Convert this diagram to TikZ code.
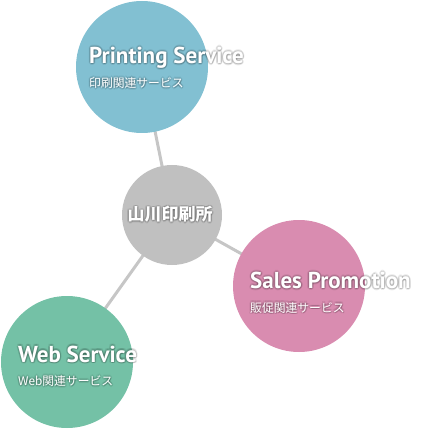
\documentclass[tikz,border=0pt]{standalone}
\usepackage{fontspec}
\setmainfont{PT Sans}
\newfontfamily\jpfont{Noto Sans CJK JP}
\usetikzlibrary{backgrounds}
\definecolor{printblue}{HTML}{82C0D2}
\definecolor{salespink}{HTML}{D98CB0}
\definecolor{webgreen}{HTML}{74C1A6}
\definecolor{centergrey}{HTML}{C0C0C0}
\definecolor{linegrey}{HTML}{C6C6C6}
\tikzset{
  bubble/.style={circle, inner sep=0pt, minimum size=132pt, draw=none},
  hub/.style={circle, inner sep=0pt, minimum size=100pt, draw=none, fill=centergrey},
  link/.style={draw=linegrey, line width=3pt},
  titletext/.style={text=white, inner sep=0pt, anchor=base west, font=\bfseries\fontsize{23}{26}\selectfont},
  subtext/.style={text=white, inner sep=0pt, anchor=base west, font=\jpfont\fontsize{11.8}{14}\selectfont},
  hubtext/.style={text=white, inner sep=0pt, font=\jpfont\bfseries\fontsize{17}{20}\selectfont},
  shade/.style={text=black, opacity=0.08},
}
\newcommand{\glowlabel}[4]{%
  \foreach \dx/\dy in {1.6/0,-1.6/0,0/1.6,0/-1.6,1.1/1.1,1.1/-1.1,-1.1/1.1,-1.1/-1.1,0.7/1}{
    \node[#1, shade] at ([shift={(\dx,\dy)}]#2) {#3};
  }
  \node[#1] (#4) at (#2) {#3};
}
\begin{document}
\begin{tikzpicture}[x=1pt,y=-1pt]
\useasboundingbox (0,0) rectangle (427,430);
\node[hub] (hub) at (172,215) {};
\node[bubble, fill=printblue] (print) at (142,67) {};
\node[bubble, fill=salespink] (sales) at (299,286) {};
\node[bubble, fill=webgreen] (web) at (67,362) {};
\begin{pgfonlayer}{background}
\draw[link] (hub.center) -- (print.center);
\draw[link] (hub.center) -- (sales.center);
\draw[link] (hub.center) -- (web.center);
\end{pgfonlayer}
\glowlabel{hubtext}{170,214.5}{山川印刷所}{hubl}
\glowlabel{titletext}{89,63.5}{Printing Service}{printt}
\glowlabel{subtext}{89,87.5}{印刷関連サービス}{prints}
\glowlabel{titletext}{250,288.5}{Sales Promotion}{salest}
\glowlabel{subtext}{250,312}{販促関連サービス}{saless}
\glowlabel{titletext}{18,362}{Web Service}{webt}
\glowlabel{subtext}{18,385.5}{Web関連サービス}{webs}
\end{tikzpicture}
\end{document}
